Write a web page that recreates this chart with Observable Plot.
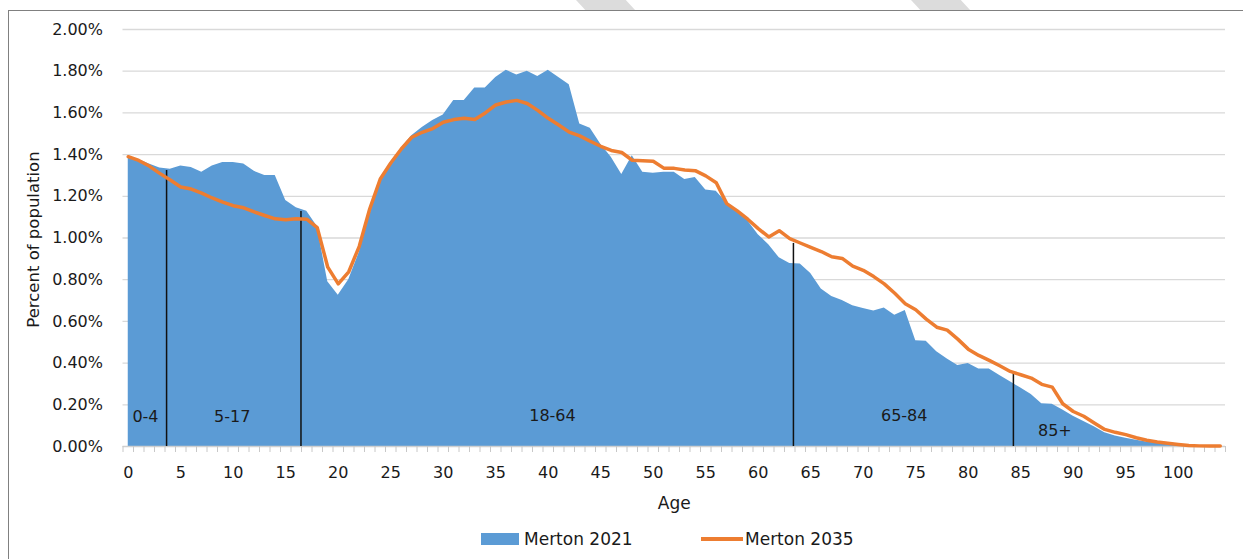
<!DOCTYPE html>
<html>
<head>
<meta charset="utf-8">
<script src="https://cdn.jsdelivr.net/npm/d3@7"></script>
<script src="https://cdn.jsdelivr.net/npm/@observablehq/plot@0.6"></script>
<style>
  html, body { margin: 0; padding: 0; background: #fff; }
  #wrap { position: relative; width: 1243px; height: 559px; overflow: hidden; font-family: "DejaVu Sans", sans-serif; color: #1a1a1a; }
  #frame { position: absolute; left: 8px; top: 10px; width: 1300px; height: 600px; border-left: 1.5px solid #808080; border-top: 1.5px solid #808080; }
  .stripe { position: absolute; top: 0; height: 11px; width: 60px; background: #dcdcdc; clip-path: polygon(0 0, 83% 0, 100% 100%, 17% 100%); }
  #chart { position: absolute; left: 0; top: 0; }
  #legend { position: absolute; top: 529px; left: 0; width: 1243px; height: 22px; font-size: 17px; }
  .sw { position: absolute; }
  .lt { position: absolute; top: 0; line-height: 20px; }
</style>
</head>
<body>
<div id="wrap">
  <div class="stripe" style="left:576px"></div>
  <div class="stripe" style="left:911px"></div>
  <div id="frame"></div>
  <div id="chart"></div>
  <div id="legend">
    <div class="sw" style="left:481px; top:4px; width:38px; height:12px; background:#5B9BD5"></div>
    <div class="lt" style="left:524px">Merton 2021</div>
    <div class="sw" style="left:701px; top:8px; width:42px; height:4px; background:#ED7D31"></div>
    <div class="lt" style="left:745px">Merton 2035</div>
  </div>
</div>
<script>
// Ages 0..104
const ages = d3.range(0, 105);

// Merton 2021 (percent of population)
const merton2021 = [
  1.39, 1.376, 1.355, 1.336, 1.33, 1.345, 1.338, 1.315, 1.345, 1.362,
  1.362, 1.355, 1.32, 1.30, 1.30, 1.18, 1.145, 1.128, 1.055, 0.79,
  0.725, 0.80, 0.93, 1.11, 1.28, 1.363, 1.43, 1.49, 1.53, 1.563,
  1.59, 1.66, 1.66, 1.72, 1.72, 1.77, 1.805, 1.782, 1.80, 1.774,
  1.805, 1.77, 1.735, 1.547, 1.526, 1.45, 1.387, 1.305, 1.395, 1.315,
  1.31, 1.315, 1.315, 1.28, 1.29, 1.23, 1.224, 1.168, 1.128, 1.083,
  1.016, 0.968, 0.905, 0.878, 0.875, 0.83, 0.755, 0.72, 0.70, 0.675,
  0.662, 0.65, 0.664, 0.63, 0.652, 0.507, 0.505, 0.455, 0.42, 0.388,
  0.398, 0.372, 0.372, 0.34, 0.31, 0.28, 0.25, 0.205, 0.203, 0.175,
  0.145, 0.12, 0.095, 0.066, 0.05, 0.04, 0.03, 0.022, 0.016, 0.012,
  0.007, 0.004, 0.002, 0.001, 0.001
];

// Merton 2035 (percent of population)
const merton2035 = [
  1.39, 1.372, 1.345, 1.31, 1.278, 1.245, 1.235, 1.215, 1.192, 1.172,
  1.155, 1.145, 1.125, 1.108, 1.092, 1.088, 1.092, 1.09, 1.05, 0.86,
  0.78, 0.838, 0.96, 1.14, 1.283, 1.36, 1.427, 1.483, 1.507, 1.525,
  1.555, 1.568, 1.574, 1.568, 1.60, 1.638, 1.652, 1.66, 1.645, 1.612,
  1.574, 1.542, 1.508, 1.49, 1.464, 1.44, 1.42, 1.41, 1.373, 1.37,
  1.368, 1.335, 1.334, 1.326, 1.323, 1.298, 1.265, 1.165, 1.13, 1.09,
  1.045, 1.005, 1.035, 0.997, 0.976, 0.955, 0.935, 0.91, 0.902, 0.865,
  0.845, 0.815, 0.78, 0.735, 0.685, 0.656, 0.611, 0.572, 0.558, 0.515,
  0.467, 0.437, 0.413, 0.387, 0.36, 0.344, 0.328, 0.298, 0.285, 0.205,
  0.168, 0.145, 0.113, 0.082, 0.068, 0.057, 0.042, 0.03, 0.022, 0.016,
  0.01, 0.005, 0.003, 0.002, 0.002
];

// Age-group dividers (hand-drawn in the original) and labels
const dividerAge = [3.65, 16.45, 63.35, 84.3];
const dividerTop = [1.324, 1.127, 0.974, 0.356];
const groupLabels = ["0-4", "5-17", "18-64", "65-84", "85+"];
const groupLabelAge = [1.64, 9.9, 40.4, 73.9, 88.25];
const groupLabelVal = [0.14, 0.14, 0.145, 0.145, 0.077];

const xTickLabels = d3.range(0, 101, 5);
const yTicks = d3.range(0, 2.001, 0.2);

const data = ages.map((a, i) => ({age: a, v2021: merton2021[i], v2035: merton2035[i]}));
const dividers = dividerAge.map((a, i) => ({age: a, top: dividerTop[i]}));
const labels = groupLabels.map((t, i) => ({text: t, age: groupLabelAge[i], v: groupLabelVal[i]}));

const chart = Plot.plot({
  width: 1243,
  height: 520,
  marginLeft: 122.5,
  marginRight: 18,
  marginTop: 29,
  marginBottom: 74,
  style: {fontFamily: "DejaVu Sans, sans-serif", fontSize: "16px", color: "#1a1a1a", background: "transparent", overflow: "visible"},
  x: {domain: [-0.5, 104.5]},
  y: {domain: [0, 2]},
  marks: [
    Plot.gridY(yTicks.filter(d => d > 0), {stroke: "#d9d9d9", strokeOpacity: 1, strokeWidth: 1.3}),
    Plot.areaY(data, {x: "age", y: "v2021", fill: "#5B9BD5"}),
    Plot.ruleY([0], {stroke: "#d0d0d0", strokeWidth: 1.3}),
    Plot.axisX(d3.range(-0.5, 105, 1), {tickSize: 6, stroke: "#c8c8c8", tickFormat: () => "", label: null}),
    Plot.axisX(xTickLabels, {tickSize: 0, tickPadding: 20, fontSize: 16, label: null, tickFormat: d => String(d)}),
    Plot.axisY(yTicks, {tickSize: 0, tickPadding: 20, fontSize: 16, tickFormat: d => d.toFixed(2) + "%", label: null}),
    Plot.text(["Age"], {frameAnchor: "bottom", dy: 62, fontSize: 17}),
    Plot.text(["Percent of population"], {frameAnchor: "left", textAnchor: "middle", dx: -89, dy: 1.5, rotate: -90, fontSize: 16.5}),
    Plot.ruleX(dividers, {x: "age", y1: 0, y2: "top", stroke: "#111", strokeWidth: 1.5}),
    Plot.lineY(data, {x: "age", y: "v2035", stroke: "#ED7D31", strokeWidth: 3.5, strokeLinejoin: "round"}),
    Plot.text(labels, {x: "age", y: "v", text: "text", fontSize: 16, fill: "#1a1a1a"})
  ]
});
document.getElementById("chart").appendChild(chart);
</script>
</body>
</html>
